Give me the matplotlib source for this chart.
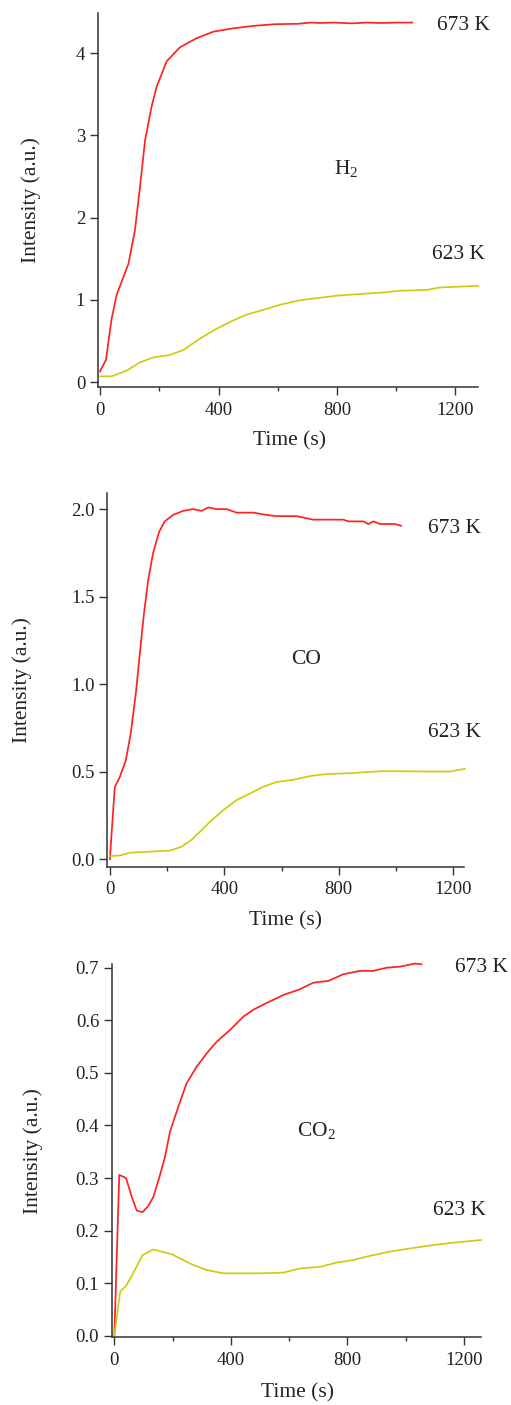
import matplotlib
matplotlib.use("Agg")
import matplotlib.pyplot as plt
from matplotlib.ticker import MultipleLocator

plt.rcParams['font.family'] = ['Liberation Serif', 'DejaVu Serif']
plt.rcParams['mathtext.fontset'] = 'custom'
plt.rcParams['mathtext.rm'] = 'Liberation Serif'
plt.rcParams['mathtext.it'] = 'Liberation Serif:italic'

RED = '#ff2222'
YEL = '#cccc10'
AXC = '#333333'

# ---------------- H2 ----------------
h2_t_673 = [0, 20, 39, 56, 79, 96, 118, 135, 152, 174, 191, 225, 270, 326, 383, 450, 518, 589, 667, 713, 743, 788, 850, 900, 950, 1000, 1054]
h2_y_673 = [0.13, 0.27, 0.77, 1.06, 1.28, 1.44, 1.85, 2.38, 2.94, 3.35, 3.59, 3.90, 4.07, 4.18, 4.26, 4.30, 4.33, 4.35, 4.355, 4.37, 4.365, 4.37, 4.36, 4.37, 4.365, 4.37, 4.37]
h2_t_623 = [0, 39, 90, 135, 180, 236, 281, 338, 394, 450, 495, 563, 608, 675, 765, 799, 878, 957, 1013, 1103, 1148, 1277]
h2_y_623 = [0.07, 0.07, 0.14, 0.24, 0.30, 0.33, 0.39, 0.53, 0.65, 0.75, 0.82, 0.89, 0.94, 0.995, 1.035, 1.05, 1.07, 1.09, 1.11, 1.12, 1.15, 1.17]

# ---------------- CO ----------------
co_t_673 = [0, 17, 35, 56, 73, 91, 105, 119, 134, 151, 172, 192, 221, 256, 291, 321, 344, 373, 408, 443, 501, 548, 583, 652, 711, 781, 816, 834, 886, 903, 921, 944, 996, 1018]
co_y_673 = [0.0, 0.41, 0.47, 0.566, 0.72, 0.95, 1.18, 1.40, 1.595, 1.748, 1.87, 1.93, 1.967, 1.99, 2.0, 1.99, 2.01, 2.0, 2.0, 1.98, 1.98, 1.967, 1.96, 1.96, 1.94, 1.94, 1.94, 1.93, 1.93, 1.915, 1.93, 1.915, 1.915, 1.905]
co_t_623 = [0, 35, 70, 151, 210, 250, 285, 315, 350, 397, 443, 490, 536, 583, 641, 700, 758, 839, 898, 956, 1015, 1108, 1189, 1241]
co_y_623 = [0.017, 0.02, 0.036, 0.043, 0.048, 0.07, 0.109, 0.156, 0.213, 0.28, 0.337, 0.375, 0.413, 0.44, 0.453, 0.474, 0.486, 0.49, 0.497, 0.502, 0.502, 0.5, 0.5, 0.516]

# ---------------- CO2 ----------------
co2_t_673 = [0, 17, 40, 60, 77, 97, 117, 134, 155, 174, 191, 220, 248, 283, 317, 351, 397, 443, 477, 523, 580, 637, 683, 735, 786, 843, 889, 935, 981, 1032, 1055]
co2_y_673 = [0.0, 0.306, 0.30, 0.264, 0.238, 0.235, 0.247, 0.264, 0.302, 0.34, 0.388, 0.436, 0.48, 0.512, 0.537, 0.559, 0.5815, 0.607, 0.62, 0.633, 0.648, 0.659, 0.6715, 0.675, 0.6875, 0.694, 0.694, 0.70, 0.702, 0.708, 0.7065]
co2_t_623 = [0, 20, 40, 65, 97, 134, 163, 197, 237, 271, 317, 374, 431, 500, 580, 637, 706, 763, 820, 878, 946, 1015, 1095, 1164, 1259]
co2_y_623 = [0.0, 0.084, 0.0945, 0.119, 0.1535, 0.164, 0.16, 0.155, 0.144, 0.1345, 0.125, 0.1187, 0.1187, 0.1187, 0.12, 0.128, 0.131, 0.139, 0.144, 0.152, 0.16, 0.166, 0.1725, 0.177, 0.182]

x_ticks = [0, 400, 800, 1200]
y_label = 'Intensity (a.u.)'
x_label = 'Time (s)'
temp_labels = ['673 K', '623 K']

W, H = 511, 1405
fig = plt.figure(figsize=(W / 100, H / 100), dpi=100)

panels = [
    dict(box=(97.7, 478, 12.7, 387), xlim=(-8, 1276), ylim=(-0.06, 4.49),
         yticks=[0, 1, 2, 3, 4], fmt='{:.0f}',
         data=[(h2_t_673, h2_y_673, RED), (h2_t_623, h2_y_623, YEL)],
         gas='H$_2$', gas_pos=(832, 2.60),
         lab_pos=[(1227, 4.33), (1210, 1.555)], ylab_x=31, xlab=(289.5, 441)),
    dict(box=(107.3, 464.3, 492.7, 866.7), xlim=(-9, 1239), ylim=(-0.044, 2.094),
         yticks=[0.0, 0.5, 1.0, 1.5, 2.0], fmt='{:.1f}',
         data=[(co_t_673, co_y_673, RED), (co_t_623, co_y_623, YEL)],
         gas='CO', gas_pos=(685, 1.138),
         lab_pos=[(1206, 1.89), (1206, 0.726)], ylab_x=22, xlab=(285.7, 921)),
    dict(box=(111.7, 481, 964.3, 1337.3), xlim=(-9, 1259), ylim=(-0.003, 0.7065),
         yticks=[0.0, 0.1, 0.2, 0.3, 0.4, 0.5, 0.6, 0.7], fmt='{:.1f}',
         data=[(co2_t_673, co2_y_673, RED), (co2_t_623, co2_y_623, YEL)],
         gas='CO$_2$', gas_pos=(692, 0.391),
         lab_pos=[(1259, 0.701), (1185, 0.239)], ylab_x=33, xlab=(297, 1393)),
]

for p in panels:
    l, r, t, b = p['box']
    ax = fig.add_axes([l / W, 1 - b / H, (r - l) / W, (b - t) / H])
    for tt, yy, c in p['data']:
        ax.plot(tt, yy, color=c, lw=1.25, solid_joinstyle='round', clip_on=False)
    ax.set_xlim(*p['xlim'])
    ax.set_ylim(*p['ylim'])
    ax.set_xticks(x_ticks)
    ax.xaxis.set_minor_locator(MultipleLocator(200))
    ax.set_yticks(p['yticks'])
    ax.set_yticklabels([p['fmt'].format(v) for v in p['yticks']])
    for s in ['top', 'right']:
        ax.spines[s].set_visible(False)
    for s in ['left', 'bottom']:
        ax.spines[s].set_color(AXC)
        ax.spines[s].set_linewidth(1.1)
    ax.tick_params(axis='both', which='major', direction='out', length=5.5,
                   width=1.0, color=AXC, labelsize=13.5, labelcolor='#222222')
    ax.tick_params(axis='x', which='major', pad=5)
    ax.tick_params(axis='y', which='major', pad=3.5)
    ax.tick_params(axis='x', which='minor', direction='out', length=3, width=1.0, color=AXC)
    ax.patch.set_alpha(0)

    ax.text(*p['gas_pos'], p['gas'], fontsize=15.5, ha='center', va='center', color='#222222')
    for (lx, ly), lab in zip(p['lab_pos'], temp_labels):
        ax.text(lx, ly, lab, fontsize=15.5, ha='center', va='center', color='#222222', clip_on=False)

    fig.text(p['ylab_x'] / W, 1 - ((t + b) / 2) / H, y_label, rotation=90,
             fontsize=15.5, ha='center', va='center', color='#222222')
    fig.text(p['xlab'][0] / W, 1 - p['xlab'][1] / H, x_label,
             fontsize=15.5, ha='center', va='center', color='#222222')

fig.savefig('out.png', dpi=100)
